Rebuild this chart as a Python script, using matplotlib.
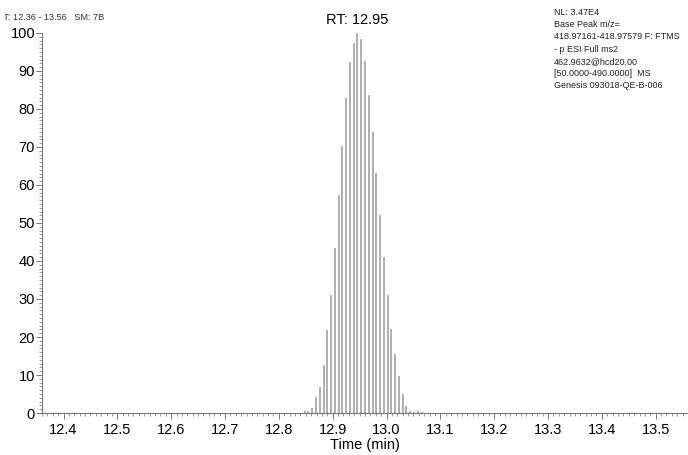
import matplotlib
matplotlib.use("Agg")
import matplotlib.pyplot as plt
from matplotlib.ticker import MultipleLocator
from matplotlib.transforms import Bbox

# chromatogram sticks (time in min, relative abundance %)
times = [12.848, 12.855, 12.862, 12.869, 12.876, 12.883, 12.890, 12.897,
         12.904, 12.911, 12.918, 12.925, 12.932, 12.939, 12.946, 12.953,
         12.960, 12.967, 12.974, 12.981, 12.988, 12.995, 13.002, 13.009,
         13.016, 13.023, 13.030, 13.037, 13.044, 13.051, 13.058, 13.065]
abund = [0.4, 0.5, 1.4, 4.1, 6.9, 12.6, 21.8, 31.1,
         43.5, 57.4, 70.3, 82.9, 92.4, 97.4, 100.0, 98.4,
         92.7, 83.6, 74.0, 63.2, 52.1, 41.1, 31.0, 22.0,
         15.5, 9.7, 5.0, 1.9, 0.6, 0.3, 0.4, 0.3]

x_ticks = [12.4, 12.5, 12.6, 12.7, 12.8, 12.9, 13.0, 13.1, 13.2, 13.3, 13.4, 13.5]
y_ticks = [0, 10, 20, 30, 40, 50, 60, 70, 80, 90, 100]

peak_label = "RT: 12.95"
header_left = "RT: 12.36 - 13.56   SM: 7B"
header_right = ["NL: 3.47E4",
                "Base Peak m/z=",
                "418.97161-418.97579 F: FTMS",
                "- p ESI Full ms2",
                "462.9632@hcd20.00",
                "[50.0000-490.0000]  MS",
                "Genesis 093018-QE-B-006"]

plt.rcParams['font.family'] = ['Liberation Sans', 'DejaVu Sans']

fig = plt.figure(figsize=(6.88, 4.55), dpi=100)
ax = fig.add_axes([0.061, 0.0923, 0.939, 0.8352])

ax.vlines(times, 0, abund, colors='#a2a2a2', linewidth=1.2)

ax.set_xlim(12.36, 13.56)
ax.set_ylim(0, 100)
ax.set_xticks(x_ticks)
ax.set_xticklabels([f"{t:.1f}" for t in x_ticks])
ax.set_yticks(y_ticks)
ax.xaxis.set_minor_locator(MultipleLocator(0.01))
ax.yaxis.set_minor_locator(MultipleLocator(1))

for s in ['top', 'right']:
    ax.spines[s].set_visible(False)
for s in ['left', 'bottom']:
    ax.spines[s].set_color('#777777')
    ax.spines[s].set_linewidth(0.8)

ax.tick_params(axis='x', which='major', length=4, width=0.7, color='#777777',
               labelsize=10.5, pad=3)
ax.tick_params(axis='x', which='minor', length=2, width=0.6, color='#888888')
ax.tick_params(axis='y', which='major', length=4, width=0.7, color='#777777',
               labelsize=10.5, pad=1)
ax.tick_params(axis='y', which='minor', length=2, width=0.6, color='#888888')

ax.set_xlabel("Time (min)", fontsize=10.5, labelpad=1)

i_max = abund.index(max(abund))
ax.text(times[i_max], 101.5, peak_label, ha='center', va='bottom', fontsize=10.5,
        clip_on=False)

# header at top left is cut through the "RT" in the original export
hl = fig.text(-0.005, 0.962, header_left, fontsize=6.6, color='#333333',
              va='center', ha='left')
hl.set_clip_box(Bbox.from_extents(5, 0, 688, 455))
hl.set_clip_on(True)

fig.text(0.805, 0.982, "\n".join(header_right), fontsize=6.5,
         color='#222222', va='top', ha='left', linespacing=1.45)

fig.savefig("out.png", dpi=100)
